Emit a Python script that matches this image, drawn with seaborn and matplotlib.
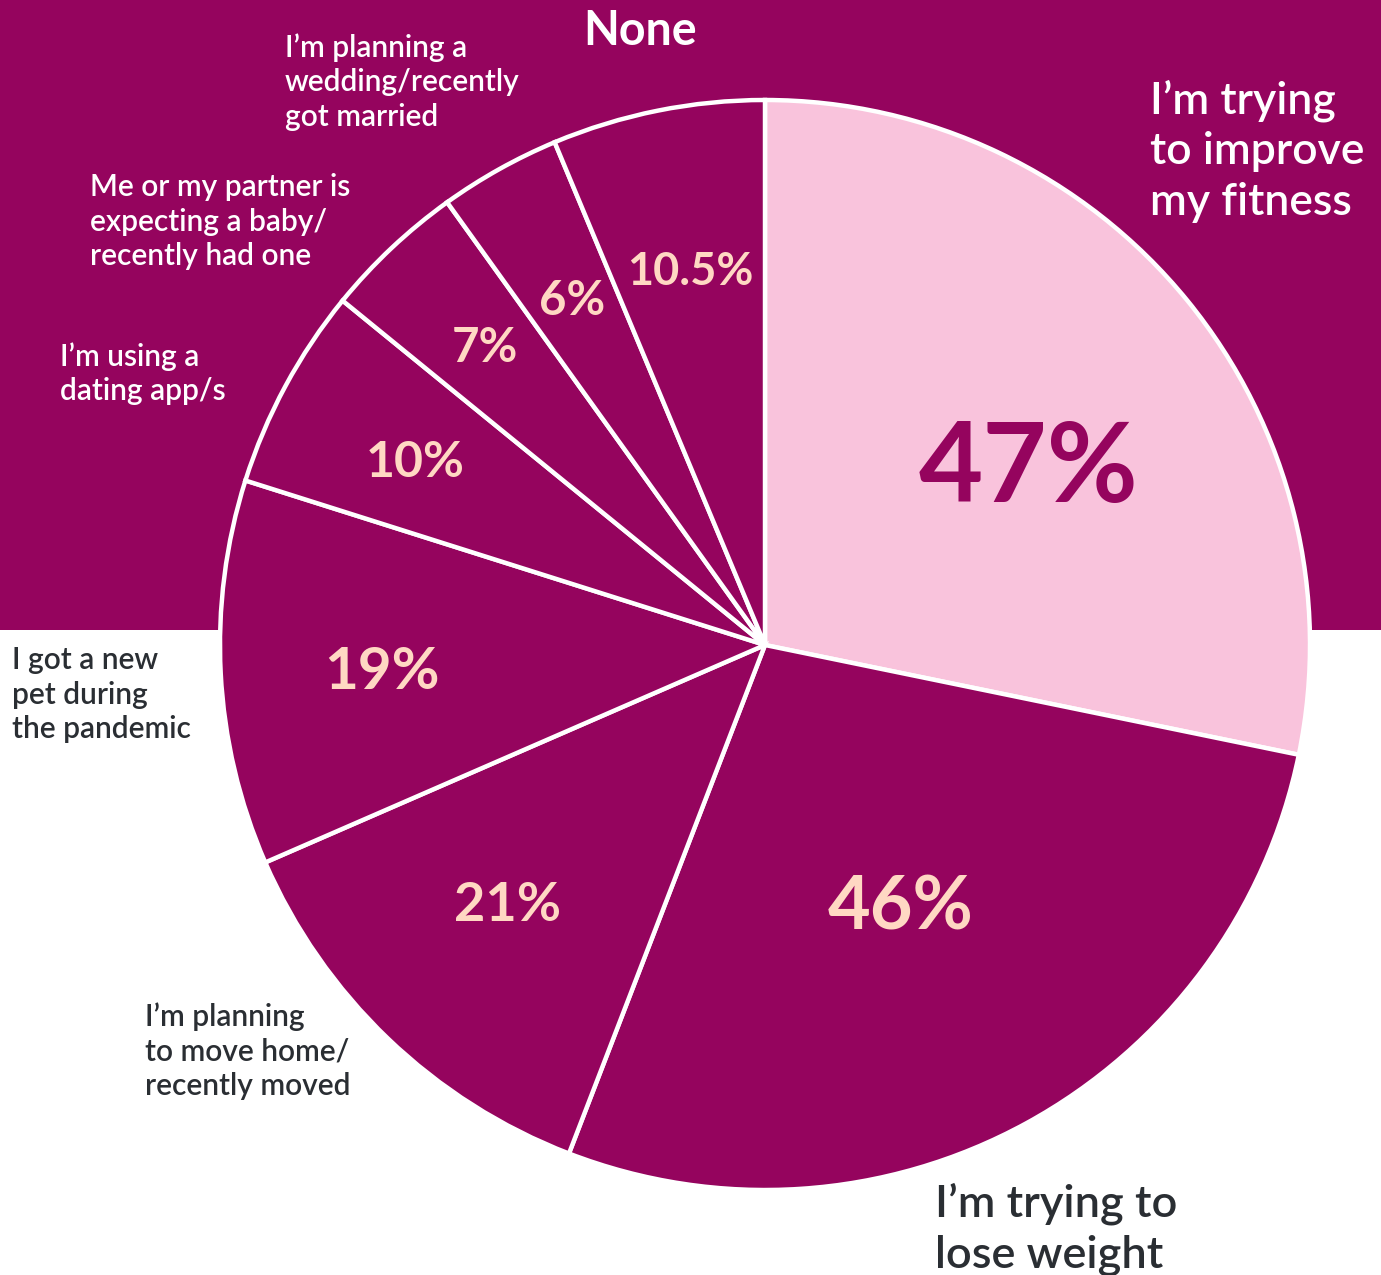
import matplotlib
matplotlib.use("Agg")
import matplotlib.pyplot as plt
import seaborn as sns
import numpy as np

# ---------------- data ----------------
categories = [
    "I\u2019m trying\nto improve\nmy fitness",
    "I\u2019m trying to\nlose weight",
    "I\u2019m planning\nto move home/\nrecently moved",
    "I got a new\npet during\nthe pandemic",
    "I\u2019m using a\ndating app/s",
    "Me or my partner is\nexpecting a baby/\nrecently had one",
    "I\u2019m planning a\nwedding/recently\ngot married",
    "None",
]
values = [47, 46, 21, 19, 10, 7, 6, 10.5]
pct_labels = ["47%", "46%", "21%", "19%", "10%", "7%", "6%", "10.5%"]

# ---------------- styling ----------------
MAGENTA = "#95045E"
PINK = "#F9C3DC"
PEACH = "#FFD8C3"
DARK = "#2A2E33"
WHITE = "#FFFFFF"

sns.set_theme(style="white")
plt.rcParams["font.family"] = ["Lato", "DejaVu Sans"]

W, H = 1381, 1275
CX, CY, R = 765, 645, 545  # pie centre / radius in pixels


def px(x, y):
    return (x - CX) / R, (CY - y) / R


fig = plt.figure(figsize=(W / 100, H / 100), dpi=100)
fig.patch.set_facecolor("white")
ax = fig.add_axes([0, 0, 1, 1])

colors = [PINK] + [MAGENTA] * (len(values) - 1)
wedges, _ = ax.pie(
    values,
    startangle=90,
    counterclock=False,
    colors=colors,
    radius=1.0,
    wedgeprops=dict(edgecolor="white", linewidth=3.2, joinstyle="miter"),
)

x0, y0 = px(0, H)
x1, y1 = px(W, 0)
ax.set_xlim(x0, x1)
ax.set_ylim(y0, y1)
ax.set_aspect("equal", adjustable="box")
ax.axis("off")

# magenta band behind the top half
band_bottom = px(0, 630)[1]
ax.axhspan(band_bottom, y1 + 1, color=MAGENTA, zorder=0, lw=0)

# ---------------- percentage labels ----------------
pct_radius = [0.58, 0.542, 0.671, 0.705, 0.725, 0.749, 0.724, 0.698]
pct_dtheta = [-5.6, -1.4, -0.9, 1.2, 0.8, 0.0, 0.0, 0.0]
pct_size = [80, 53, 39, 42, 36, 34, 34, 32.5]
pct_color = [MAGENTA] + [PEACH] * 7
for w, r, dt, s, c, lab in zip(wedges, pct_radius, pct_dtheta, pct_size, pct_color, pct_labels):
    th = np.deg2rad((w.theta1 + w.theta2) / 2 + dt)
    ax.text(r * np.cos(th), r * np.sin(th), lab, ha="center", va="center",
            fontsize=s, fontweight="bold", color=c, zorder=5)

# ---------------- category labels ----------------
lab_pos = [(1150, 79), (935, 1182), (145, 1002), (12, 646), (60, 342),
           (90, 173), (285, 33), (640, 9)]
lab_ha = ["left", "left", "left", "left", "left", "left", "left", "center"]
lab_size = [32, 32.5, 21.5, 21.5, 21.5, 21.5, 21.5, 33.5]
lab_color = [WHITE, DARK, DARK, DARK, WHITE, WHITE, WHITE, WHITE]
lab_weight = ["semibold", "semibold", "semibold", "semibold", "semibold",
              "semibold", "semibold", "bold"]
for (lx, ly), ha, s, c, fw, lab in zip(lab_pos, lab_ha, lab_size, lab_color,
                                       lab_weight, categories):
    x, y = px(lx, ly)
    ax.text(x, y, lab, ha=ha, va="top", fontsize=s, color=c, fontweight=fw,
            linespacing=1.29, zorder=5)

fig.savefig("out.png", dpi=100, facecolor=fig.get_facecolor())
